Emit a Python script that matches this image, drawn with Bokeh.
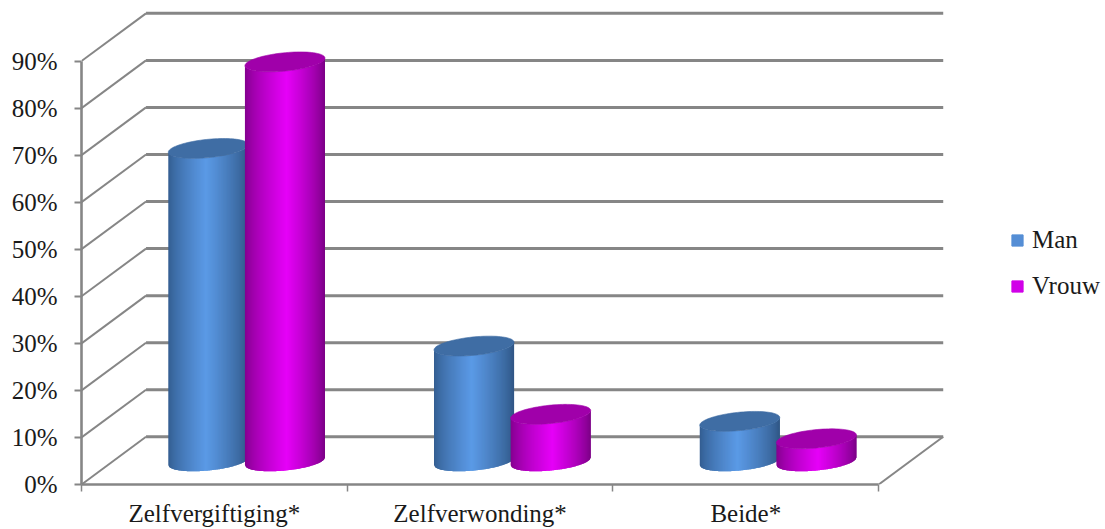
import numpy as np
from bokeh.embed import file_html
from bokeh.resources import INLINE
from bokeh.plotting import figure
from bokeh.models import Range1d, FixedTicker, Legend, LegendItem

categories = ["Zelfvergiftiging*", "Zelfverwonding*", "Beide*"]
man = [66.5, 24.5, 8.5]
vrouw = [84.9, 10.0, 4.8]
y_ticks = [0, 10, 20, 30, 40, 50, 60, 70, 80, 90]
y_labels = ["0%", "10%", "20%", "30%", "40%", "50%", "60%", "70%", "80%", "90%"]

FONT = "Liberation Serif"
TEXT = "#1a1a1a"
GRID = "#868686"

W, H = 1105, 529
LEFT, BOTTOM = 81.5, 44
PX_CAT = 265.6
PX_PCT = 4.715
DEPTH_X = 64.5 / PX_CAT
DEPTH_Y = 47.8 / PX_PCT
R = 40.0 / PX_CAT          # cylinder radius (x units)
OFFSET = 38.3 / PX_CAT     # cylinder centre offset from band centre
EB = 9.2 / PX_PCT          # ellipse half height
EK = 3.8 / PX_PCT          # ellipse tilt

p = figure(width=W, height=H, output_backend="svg", toolbar_location=None,
           x_range=Range1d(0, (W - LEFT) / PX_CAT),
           y_range=Range1d(0, (H - BOTTOM) / PX_PCT),
           min_border_left=int(LEFT), min_border_right=0, min_border_top=0,
           min_border_bottom=BOTTOM, outline_line_color=None,
           background_fill_color="white", border_fill_color="white")
p.grid.visible = False

# walls: diagonals and back lines
n = len(categories)
diag_xs = [[0, DEPTH_X] for _ in y_ticks] + [[n, n + DEPTH_X]]
diag_ys = [[v, v + DEPTH_Y] for v in y_ticks] + [[0, DEPTH_Y]]
p.multi_line(diag_xs, diag_ys, line_color=GRID, line_width=2)
p.multi_line([[DEPTH_X, n + DEPTH_X] for _ in y_ticks],
             [[v + DEPTH_Y, v + DEPTH_Y] for v in y_ticks],
             line_color=GRID, line_width=3)


def shade(c_edge_l, c_mid, c_edge_r, s, mid):
    c_edge_l, c_mid, c_edge_r = map(np.array, (c_edge_l, c_mid, c_edge_r))
    if s < mid:
        f = (s / mid) ** 0.75
        c = c_edge_l + (c_mid - c_edge_l) * f
    else:
        f = ((1 - s) / (1 - mid)) ** 0.75
        c = c_edge_r + (c_mid - c_edge_r) * f
    return "#%02x%02x%02x" % tuple(int(round(q)) for q in c)


def cylinder(cx, value, edge_l, mid, edge_r, top, midpos):
    base = DEPTH_Y / 2 - 0.15
    N = 80
    s = np.linspace(-1, 1, N + 1)
    ang = np.arccos(s)
    low = base - EB * np.sin(ang) + EK * s
    xpos = cx + R * s
    xs, ys, cs = [], [], []
    for i in range(N):
        j = min(i + 2, N)              # each strip overlaps the next, so no seams show
        idx = list(range(i, j + 1))
        xs.append(list(xpos[idx]) + list(xpos[idx][::-1]))
        ys.append(list(low[idx]) + list((low[idx] + value)[::-1]))
        cs.append(shade(edge_l, mid, edge_r, (i + 0.5) / N, midpos))
    p.patches(xs, ys, fill_color=cs, line_color=None)
    a = np.linspace(0, 2 * np.pi, 90)
    p.patch(cx + R * np.cos(a), base + value + EB * np.sin(a) + EK * np.cos(a),
            fill_color=top, line_color=top, line_width=0.6)


M = dict(edge_l=(50, 92, 143), mid=(91, 154, 230), edge_r=(46, 84, 130), top="#3f6da4", midpos=0.47)
V = dict(edge_l=(130, 0, 140), mid=(230, 0, 248), edge_r=(120, 0, 130), top="#a000aa", midpos=0.52)
for i in range(n):
    centre = i + 0.5 + DEPTH_X / 2
    cylinder(centre - OFFSET, man[i], **M)
    cylinder(centre + OFFSET, vrouw[i], **V)

# axes
ya = p.yaxis[0]
ya.ticker = FixedTicker(ticks=y_ticks)
ya.major_label_overrides = {t: l for t, l in zip(y_ticks, y_labels)}
ya.bounds = (0, 90)
ya.axis_line_color = GRID
ya.axis_line_width = 2.6
ya.major_tick_line_color = GRID
ya.major_tick_line_width = 2
ya.major_tick_out = 7
ya.major_tick_in = 0
ya.minor_tick_line_color = None
ya.major_label_standoff = 17
ya.major_label_text_font = FONT
ya.major_label_text_font_size = "25px"
ya.major_label_text_color = TEXT

xa = p.xaxis[0]
ticks = [i + 0.5 for i in range(n)]
xa.ticker = FixedTicker(ticks=ticks, minor_ticks=list(range(n + 1)))
xa.major_label_overrides = {t: l for t, l in zip(ticks, categories)}
xa.bounds = (0, n)
xa.axis_line_color = GRID
xa.axis_line_width = 2.6
xa.major_tick_line_color = None
xa.major_tick_out = 0
xa.major_tick_in = 0
xa.minor_tick_line_color = GRID
xa.minor_tick_line_width = 1.5
xa.minor_tick_out = 7
xa.minor_tick_in = 0
xa.major_label_standoff = 8
xa.major_label_text_font = FONT
xa.major_label_text_font_size = "25px"
xa.major_label_text_color = TEXT

# legend
r_m = p.quad(left=[np.nan], right=[np.nan], bottom=[np.nan], top=[np.nan], fill_color="#558ed5", line_color="#558ed5")
r_v = p.quad(left=[np.nan], right=[np.nan], bottom=[np.nan], top=[np.nan], fill_color="#d100e8", line_color="#d100e8")
legend = Legend(items=[LegendItem(label="Man", renderers=[r_m]), LegendItem(label="Vrouw", renderers=[r_v])],
                location=(929, 184), orientation="vertical", padding=0, margin=0, spacing=18,
                glyph_width=14, glyph_height=14, label_standoff=8, label_height=28,
                label_text_font=FONT, label_text_font_size="25px", label_text_color=TEXT,
                border_line_color=None, background_fill_alpha=0)
p.add_layout(legend, "center")

open("out.html", "w").write(file_html(p, INLINE))
